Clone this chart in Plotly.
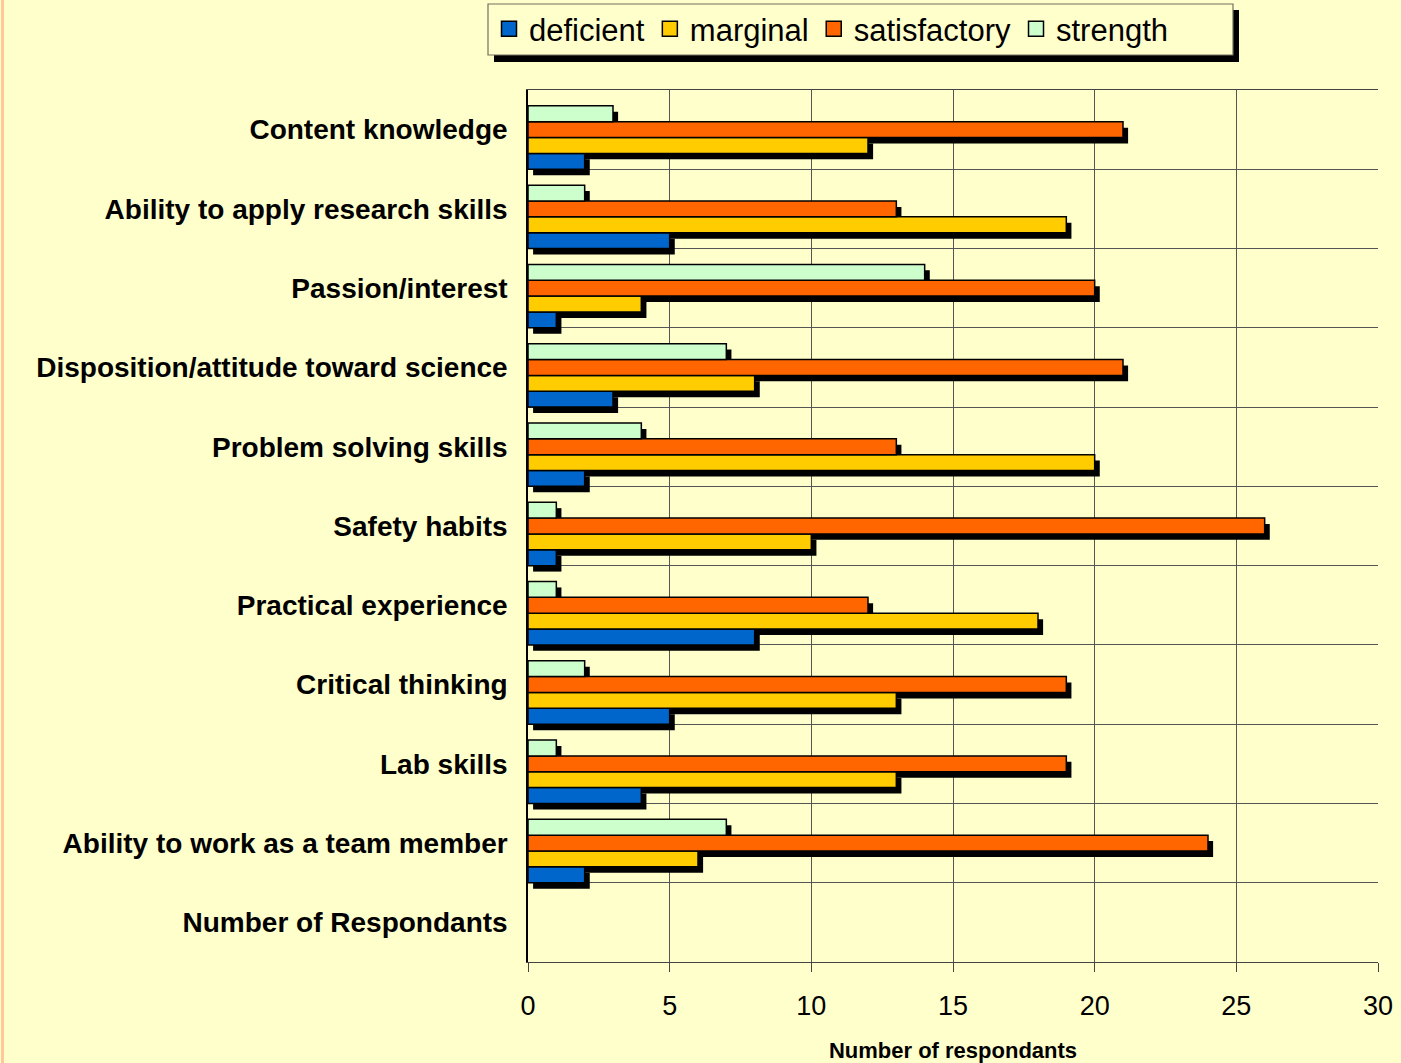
import plotly.graph_objects as go

# Categories listed bottom -> top (as Excel draws them)
categories = [
    "Number of Respondants",
    "Ability to work as a team member",
    "Lab skills",
    "Critical thinking",
    "Practical experience",
    "Safety habits",
    "Problem solving skills",
    "Disposition/attitude toward science",
    "Passion/interest",
    "Ability to apply research skills",
    "Content knowledge",
]
deficient    = [None, 2, 4, 5, 8, 1, 2, 3, 1, 5, 2]
marginal     = [None, 6, 13, 13, 18, 10, 20, 8, 4, 19, 12]
satisfactory = [None, 24, 19, 19, 12, 26, 13, 21, 20, 13, 21]
strength     = [None, 7, 1, 2, 1, 1, 4, 7, 14, 2, 3]

series_names = ["deficient", "marginal", "satisfactory", "strength"]
series_values = [deficient, marginal, satisfactory, strength]
colors = ["#0066CC", "#FFCC00", "#FF6600", "#CCFFCC"]
offsets = [-0.5, -0.3, -0.1, 0.1]
bar_w = 0.2
shadow_dx = 0.18
shadow_dy = 0.075

W, H = 1401, 1063
ML, MR, MT, MB = 528, 23, 90, 101
PW, PH = W - ML - MR, H - MT - MB


def px_x(p):
    return (p - ML) / PW


def px_y(p):
    return (H - MB - p) / PH


fig = go.Figure()

# shadows first
for vals, off in zip(series_values, offsets):
    fig.add_trace(go.Bar(
        y=categories, x=vals, orientation="h",
        base=shadow_dx, offset=off - shadow_dy, width=bar_w,
        marker=dict(color="black", line=dict(width=0)),
        showlegend=False, hoverinfo="skip",
    ))

for name, vals, col, off in zip(series_names, series_values, colors, offsets):
    fig.add_trace(go.Bar(
        y=categories, x=vals, orientation="h", name=name,
        offset=off, width=bar_w, legendgroup=name, showlegend=False,
        marker=dict(color=col, line=dict(color="black", width=1.5)),
    ))

# legend entries with larger square keys
for name, col in zip(series_names, colors):
    fig.add_trace(go.Scatter(
        x=[None], y=[None], mode="markers", name=name, legendgroup=name,
        marker=dict(symbol="square", size=15, color=col,
                    line=dict(color="black", width=1.5)),
    ))

bg = "#FFFFCC"
fig.update_layout(
    width=W, height=H,
    barmode="overlay",
    paper_bgcolor=bg, plot_bgcolor=bg,
    margin=dict(l=ML, r=MR, t=MT, b=MB, autoexpand=False),
    font=dict(family="Liberation Sans, Arial, sans-serif", color="black"),
    legend=dict(
        orientation="h", x=px_x(489), y=px_y(2), xanchor="left", yanchor="top",
        bgcolor="rgba(0,0,0,0)", borderwidth=0,
        font=dict(size=31), traceorder="normal", itemwidth=30,
    ),
    xaxis=dict(
        range=[0, 30], dtick=5, tick0=0,
        showgrid=True, gridcolor="#555555", gridwidth=1.3,
        showline=True, linecolor="#444444", linewidth=1.3, mirror=True,
        ticks="outside", ticklen=9, tickcolor="#444444",
        tickfont=dict(size=27), ticklabelstandoff=10,
        title=dict(text="<b>Number of respondants</b>", font=dict(size=22), standoff=26),
        zeroline=False, automargin=False,
    ),
    yaxis=dict(
        type="category", categoryorder="array", categoryarray=categories,
        range=[-0.5, 10.5],
        tickson="boundaries", ticks="", showgrid=True,
        gridcolor="#555555", gridwidth=1.3,
        showline=True, linecolor="black", linewidth=1.5, mirror=False,
        tickfont=dict(size=28, family="Liberation Sans, Arial, sans-serif"),
        ticklabelstandoff=13, automargin=False,
    ),
    shapes=[
        dict(type="line", xref="paper", yref="paper",
             x0=px_x(2.5), x1=px_x(2.5), y0=-0.2, y1=1.2,
             line=dict(color="#FFC898", width=3)),
        # legend shadow
        dict(type="rect", xref="paper", yref="paper",
             x0=px_x(494), x1=px_x(1239), y0=px_y(62), y1=px_y(10),
             fillcolor="black", line=dict(width=0)),
        # legend box
        dict(type="rect", xref="paper", yref="paper",
             x0=px_x(488), x1=px_x(1233), y0=px_y(55), y1=px_y(4),
             fillcolor=bg, line=dict(color="#707060", width=1.2)),
    ],
)
fig.update_yaxes(ticktext=["<b>%s</b>" % c for c in categories], tickvals=categories)

fig.write_html(
    "out.html",
    config={"displayModeBar": False},
    post_script="document.body.style.margin='0';document.body.style.overflow='hidden';",
)
